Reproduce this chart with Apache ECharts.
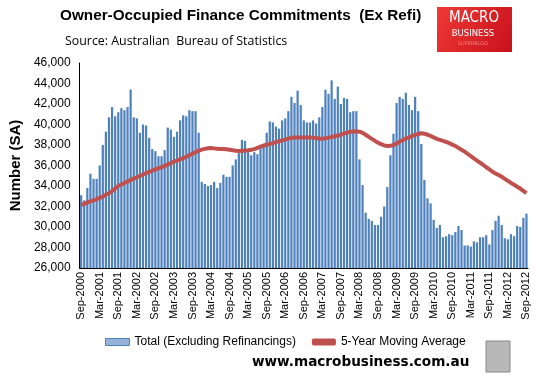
<!DOCTYPE html>
<html>
<head>
<meta charset="utf-8">
<script src="https://cdn.jsdelivr.net/npm/echarts@6/dist/echarts.min.js"></script>
<style>
  html, body { margin: 0; padding: 0; background: #fff; }
  #chart { width: 540px; height: 376px; }
</style>
</head>
<body>
<div id="chart"></div>
<script>
// monthly commitments, Sep-2000 .. Sep-2012
const totalExRefi = [
  33100, 32600, 33800, 35200, 34700, 34700, 36000, 38000, 39300, 40700, 41700, 40800,
  41200, 41600, 41400, 41700, 43400, 40700, 40600, 39200, 40000, 39900, 38700, 37600,
  37400, 36900, 36900, 37500, 39700, 39500, 38800, 39300, 40400, 40900, 40800, 41400,
  41300, 41300, 39200, 34400, 34200, 34000, 34100, 34400, 33800, 34300, 35100, 34900,
  34900, 36000, 36600, 37200, 38500, 38400, 37300, 37000, 37300, 37100, 38000, 38100,
  39200, 40300, 40200, 39800, 39600, 40400, 40600, 41300, 42700, 42100, 43300, 41900,
  40400, 40200, 40200, 40400, 40100, 40700, 41700, 43400, 43000, 44300, 42500, 43700,
  42000, 42600, 42500, 41200, 41300, 41300, 36600, 34100, 31400, 30800, 30600, 30200,
  30200, 31000, 32000, 33900, 37000, 39100, 42100, 42700, 42500, 43100, 41900, 41400,
  42700, 41300, 38100, 34600, 32800, 32300, 30700, 29900, 30200, 29000, 29100, 29300,
  29200, 29500, 30100, 29700, 28200, 28200, 28100, 28600, 28500, 29000, 29000, 29200,
  28300, 29700, 30600, 31100, 30200, 28900, 28800, 29300, 29100, 30100, 30000, 30900,
  31300
];

const movingAvg5y = [
  32150, 32250, 32400, 32500, 32600, 32700, 32850, 32960, 33150, 33300, 33500, 33750,
  34000, 34150, 34300, 34420, 34580, 34720, 34850, 34980, 35120, 35250, 35380, 35500,
  35630, 35730, 35850, 35950, 36100, 36230, 36370, 36480, 36600, 36720, 36850, 37000,
  37150, 37300, 37450, 37550, 37620, 37680, 37700, 37670, 37640, 37620, 37600, 37580,
  37540, 37490, 37440, 37420, 37430, 37440, 37480, 37530, 37600, 37720, 37840, 37950,
  38030, 38100, 38180, 38280, 38370, 38450, 38530, 38620, 38700, 38720, 38730, 38720,
  38720, 38730, 38720, 38720, 38680, 38620, 38600, 38650, 38720, 38780, 38850, 38920,
  39000, 39100, 39200, 39300, 39320, 39330, 39300, 39180, 39000, 38800, 38600, 38400,
  38220, 38080, 37960, 37900, 37920, 38000, 38150, 38320, 38480, 38620, 38750, 38880,
  38980, 39080, 39140, 39100, 39000, 38880, 38740, 38600, 38500, 38400, 38300, 38180,
  38040, 37900, 37720, 37540, 37350, 37130, 36920, 36700, 36480, 36270, 36050, 35830,
  35620, 35400, 35230, 35070, 34900, 34700, 34500, 34300, 34120, 33930, 33750, 33520,
  33300
];

const monthNames = ['Jan','Feb','Mar','Apr','May','Jun','Jul','Aug','Sep','Oct','Nov','Dec'];
const months = [];
for (let i = 0; i < totalExRefi.length; i++) {
  const m = (8 + i) % 12;
  const y = 2000 + Math.floor((8 + i) / 12);
  months.push(monthNames[m] + '-' + y);
}

const chart = echarts.init(document.getElementById('chart'), null, { renderer: 'canvas' });

const option = {
  backgroundColor: '#fff',
  animation: false,
  textStyle: { fontFamily: 'Liberation Sans, Arial, sans-serif' },
  grid: { left: 68, top: 63, width: 460, height: 205, containLabel: false },
  legend: {
    left: 100, top: 331,
    itemWidth: 24, itemHeight: 7, itemGap: 16,
    textStyle: { fontSize: 12, color: '#000', fontFamily: 'Liberation Sans, Arial, sans-serif' },
    data: [
      { name: 'Total (Excluding Refinancings)', icon: 'rect',
        itemStyle: { color: '#95B3D7', borderColor: '#4F81BD', borderWidth: 1 } },
      { name: '5-Year Moving Average', icon: 'roundRect',
        itemStyle: { color: '#C0504D' } }
    ]
  },
  xAxis: {
    type: 'category',
    data: months,
    boundaryGap: true,
    axisLine: { lineStyle: { color: '#000', width: 1 } },
    axisTick: { show: false },
    axisLabel: {
      interval: 5, rotate: 90, fontSize: 11, color: '#000', margin: 4
    },
    splitLine: { show: false }
  },
  yAxis: {
    type: 'value',
    min: 26000, max: 46000, interval: 2000,
    name: 'Number (SA)',
    nameLocation: 'middle',
    nameRotate: 90,
    nameGap: 52,
    nameTextStyle: { fontSize: 15, fontWeight: 'bold', color: '#000' },
    axisLine: { show: true, lineStyle: { color: '#000', width: 1 } },
    axisTick: { show: false },
    axisLabel: {
      fontSize: 12, color: '#000', margin: 9,
      formatter: v => v.toLocaleString('en-US')
    },
    splitLine: { show: false }
  },
  series: [
    {
      name: 'Total (Excluding Refinancings)',
      type: 'bar',
      data: totalExRefi,
      barCategoryGap: '28%',
      itemStyle: { color: '#4F81BD' }
    },
    {
      name: '5-Year Moving Average',
      type: 'line',
      data: movingAvg5y,
      symbol: 'none',
      smooth: false,
      lineStyle: { color: '#C0504D', width: 4 },
      itemStyle: { color: '#C0504D' }
    }
  ],
  graphic: [
    { type: 'text', left: 60, top: 8,
      style: { text: 'Owner-Occupied Finance Commitments  (Ex Refi)', fontSize: 15.3, fontWeight: 'bold',
        fill: '#000', fontFamily: 'Liberation Sans, Arial, sans-serif' } },
    { type: 'text', left: 65, top: 35,
      style: { text: 'Source: Australian  Bureau of Statistics', fontSize: 12.4,
        fill: '#000', fontFamily: 'Open Sans, sans-serif' } },
    // logo box
    { type: 'rect', shape: { x: 437, y: 7, width: 75, height: 45 },
      style: { fill: new echarts.graphic.LinearGradient(0, 0, 1, 1, [
        { offset: 0, color: '#ee3a36' }, { offset: 1, color: '#c8101a' }]) } },
    { type: 'text', x: 474, y: 11,
      style: { text: 'MACRO', fontSize: 15, fill: '#fff', align: 'center',
        fontFamily: 'DejaVu Sans Condensed, DejaVu Sans, sans-serif' } },
    { type: 'text', x: 473, y: 29,
      style: { text: 'BUSINESS', fontSize: 8.5, fill: '#fff', align: 'center',
        fontFamily: 'DejaVu Sans, sans-serif' } },
    { type: 'text', x: 473, y: 41,
      style: { text: 'SUPERBLOG', fontSize: 5, fill: '#f08080', align: 'center',
        fontFamily: 'DejaVu Sans, sans-serif' } },
    { type: 'text', left: 252, top: 355,
      style: { text: 'www.macrobusiness.com.au', fontSize: 13.6, fontWeight: 'bold',
        fill: '#000', fontFamily: 'DejaVu Sans, sans-serif' } },
    // wolf picture placeholder
    { type: 'rect', shape: { x: 486, y: 341, width: 24, height: 31 },
      style: { fill: '#b8b8b8', stroke: '#888', lineWidth: 1 } }
  ]
};

chart.setOption(option);
</script>
</body>
</html>
